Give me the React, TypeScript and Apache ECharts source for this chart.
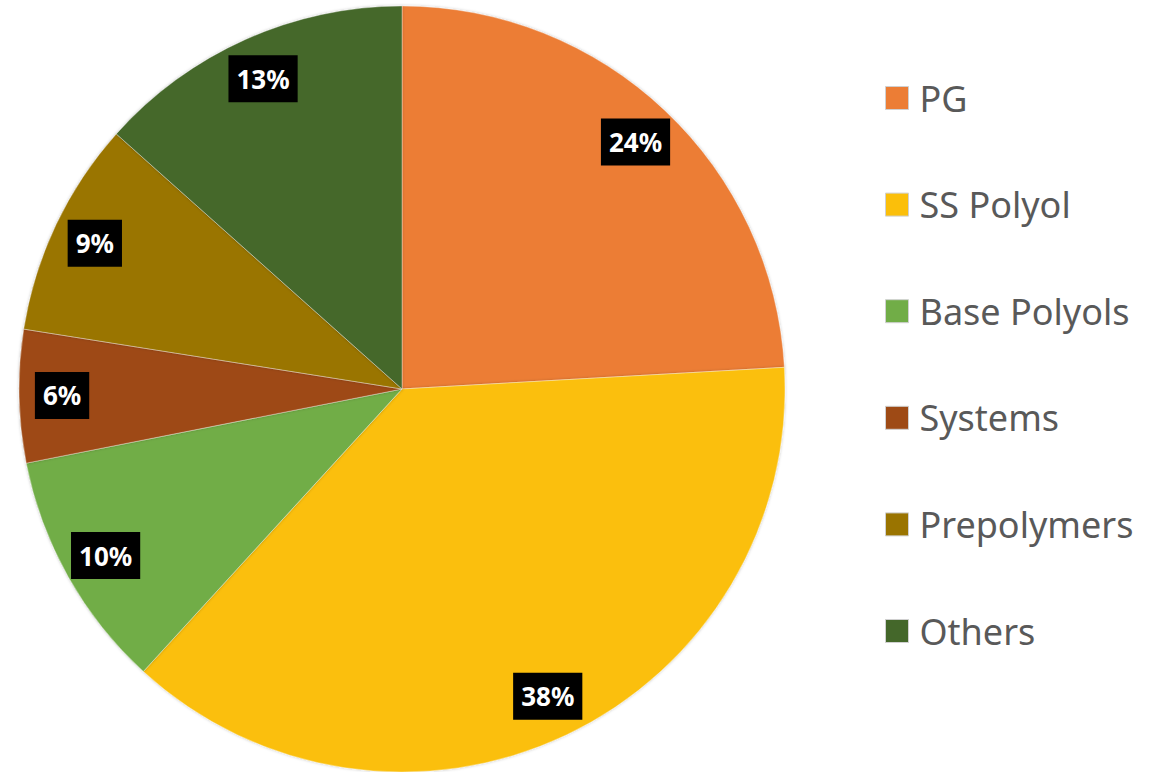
import React, { useEffect, useRef } from "react";
import * as echarts from "echarts";

const categories = ["PG", "SS Polyol", "Base Polyols", "Systems", "Prepolymers", "Others"];
const values = [24.1, 37.7, 10.1, 5.6, 9.1, 13.4];
const percentLabels = ["24%", "38%", "10%", "6%", "9%", "13%"];
const colors = ["#EC7D35", "#FBBF0A", "#71AD47", "#9E4A15", "#9A7400", "#44672A"];

export default function App() {
  const ref = useRef<HTMLDivElement>(null);
  useEffect(() => {
    const chart = echarts.init(ref.current!, null, { renderer: "svg" });
    const data = categories.map((name, i) => ({
      name,
      value: values[i],
      itemStyle: { color: colors[i] },
    }));
    chart.setOption({
      animation: false,
      legend: {
        orient: "vertical",
        left: 880,
        top: 73,
        itemWidth: 23,
        itemHeight: 23,
        itemGap: 66.6,
        icon: "rect",
        selectedMode: false,
        textStyle: {
          fontFamily: "Noto Sans",
          fontSize: 36,
          color: "#595959",
          lineHeight: 40,
          padding: [0, 0, 0, 6],
        },
        data: categories.map((name, i) => ({
          name,
          itemStyle: { color: colors[i], borderColor: "#d0d0d0", borderWidth: 1 },
        })),
      },
      series: [
        {
          type: "pie",
          center: [402, 389],
          radius: [0, 383],
          startAngle: 90,
          clockwise: true,
          label: { show: false },
          labelLine: { show: false },
          itemStyle: {
            borderColor: "rgba(255,255,255,0.35)",
            borderWidth: 1,
            shadowColor: "rgba(0,0,0,0.25)",
            shadowBlur: 3,
          },
          emphasis: { disabled: true },
          data,
        },
        {
          type: "pie",
          center: [402, 389],
          radius: [291, 383],
          startAngle: 90,
          clockwise: true,
          silent: true,
          labelLine: { show: false },
          itemStyle: { color: "rgba(0,0,0,0)" },
          emphasis: { disabled: true },
          label: {
            show: true,
            position: "inside",
            formatter: (p: any) => percentLabels[p.dataIndex],
            fontFamily: "Noto Sans",
            fontWeight: "bold",
            fontSize: 26,
            lineHeight: 31,
            color: "#ffffff",
            backgroundColor: "#000000",
            padding: [8, 8],
          },
          data: categories.map((name, i) => ({
            name,
            value: values[i],
            itemStyle: { color: "rgba(0,0,0,0)" },
          })),
        },
      ],
    });
    return () => chart.dispose();
  }, []);
  return (
    <div
      ref={ref}
      style={{ position: "fixed", left: 0, top: 0, width: 1171, height: 772, background: "#ffffff" }}
    />
  );
}
